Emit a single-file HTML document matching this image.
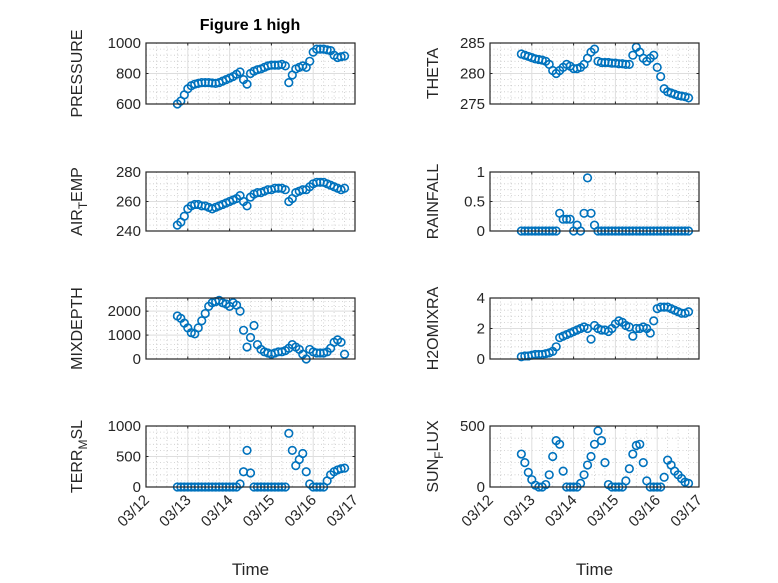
<!DOCTYPE html>
<html><head><meta charset="utf-8">
<style>
html,body{margin:0;padding:0;background:#fff;}
svg{display:block;font-family:"Liberation Sans","DejaVu Sans",sans-serif;}
</style></head>
<body>
<svg id="fig" width="778" height="583" viewBox="0 0 778 583" xmlns="http://www.w3.org/2000/svg">
<rect x="0" y="0" width="778" height="583" fill="#fff"/>
<text x="250" y="30" text-anchor="middle" font-weight="bold" font-size="16" fill="#000">Figure 1 high</text>
</svg>
<script>
// time axis (days after 03/12 00:00), sample step 2h
const startDay = 0.75;
const stepDay = 1/12;
const dayTickLabels = ["03/12","03/13","03/14","03/15","03/16","03/17"];

const pressure = [600,620,660,700,720,730,735,740,740,740,738,735,740,750,760,770,780,795,810,760,730,800,815,825,830,840,850,855,855,855,860,850,740,790,830,840,850,840,880,940,960,960,960,955,950,920,905,910,915];
const airTemp = [244,246,250,255,257,258,258,257,257,256,255,256,257,258,259,260,261,262,264,260,257,263,265,266,266,267,268,268,269,269,269,268,260,262,266,267,268,268,270,272,273,273,273,272,271,270,269,268,269];
const mixDepth = [1800,1700,1500,1300,1100,1050,1300,1600,1900,2200,2350,2400,2450,2350,2300,2200,2350,2250,2000,1200,500,900,1400,600,400,300,250,200,250,300,300,350,450,600,500,400,200,0,400,300,250,250,250,300,450,700,800,700,200];
const terrMsl = [0,0,0,0,0,0,0,0,0,0,0,0,0,0,0,0,0,0,50,250,600,230,0,0,0,0,0,0,0,0,0,0,880,600,350,450,550,250,50,0,0,0,0,100,200,250,280,300,310];
const theta = [283.2,283,282.8,282.6,282.4,282.3,282.2,282,281.5,280.5,280,280.5,281,281.5,281.2,280.8,280.8,281,281.5,282.5,283.5,284,282,281.8,281.8,281.8,281.7,281.7,281.6,281.6,281.5,281.5,283,284.3,283.5,282.5,282,282.5,283,281,279.5,277.5,277,276.8,276.6,276.4,276.3,276.2,276];
const rainfall = [0,0,0,0,0,0,0,0,0,0,0,0.3,0.2,0.2,0.2,0,0.1,0,0.3,0.9,0.3,0.1,0,0,0,0,0,0,0,0,0,0,0,0,0,0,0,0,0,0,0,0,0,0,0,0,0,0,0];
const h2oMix = [0.15,0.2,0.2,0.25,0.3,0.3,0.3,0.35,0.4,0.5,0.8,1.4,1.5,1.6,1.7,1.8,1.9,2.0,2.1,2.0,1.3,2.2,2.0,1.9,1.9,1.8,2.0,2.3,2.5,2.4,2.2,2.1,1.5,2.0,2.0,2.1,2.0,1.7,2.5,3.3,3.4,3.4,3.4,3.3,3.2,3.1,3.0,3.0,3.1];
const sunFlux = [270,200,120,60,15,0,0,20,100,250,380,350,130,0,0,0,0,30,100,180,250,350,460,380,200,20,0,0,0,0,50,150,270,340,350,200,50,0,0,0,0,80,220,180,130,100,70,40,30];

const pressureTicks = [600,800,1000];
const airTempTicks = [240,260,280];
const mixDepthTicks = [0,1000,2000];
const terrTicks = [0,500,1000];
const thetaTicks = [275,280,285];
const rainTicks = [0,0.5,1];
const h2oTicks = [0,2,4];
const sunTicks = [0,500];

const NS = "http://www.w3.org/2000/svg";
const svg = document.getElementById('fig');
function mk(tag, attrs, parent){
  const e = document.createElementNS(NS, tag);
  for (const k in attrs) e.setAttribute(k, attrs[k]);
  (parent||svg).appendChild(e);
  return e;
}

const panels = [
  {name:"pressure", data:pressure, ticks:pressureTicks, ymin:600, ymax:1000, x0:146, y0:43, y1:104, label:["PRESSURE"], labx:82, bottom:false},
  {name:"air-temp", data:airTemp, ticks:airTempTicks, ymin:240, ymax:280, x0:146, y0:172, y1:231, label:["AIR","T","EMP"], labx:82, bottom:false},
  {name:"mixdepth", data:mixDepth, ticks:mixDepthTicks, ymin:0, ymax:2550, x0:146, y0:298, y1:359, label:["MIXDEPTH"], labx:82, bottom:false},
  {name:"terr-msl", data:terrMsl, ticks:terrTicks, ymin:0, ymax:1000, x0:146, y0:426, y1:487, label:["TERR","M","SL"], labx:82, bottom:true},
  {name:"theta", data:theta, ticks:thetaTicks, ymin:275, ymax:285, x0:490, y0:43, y1:104, label:["THETA"], labx:438, bottom:false},
  {name:"rainfall", data:rainfall, ticks:rainTicks, ymin:0, ymax:1, x0:490, y0:172, y1:231, label:["RAINFALL"], labx:438, bottom:false},
  {name:"h2omixra", data:h2oMix, ticks:h2oTicks, ymin:0, ymax:4, x0:490, y0:298, y1:359, label:["H2OMIXRA"], labx:438, bottom:false},
  {name:"sun-flux", data:sunFlux, ticks:sunTicks, ymin:0, ymax:500, x0:490, y0:426, y1:487, label:["SUN","F","LUX"], labx:438, bottom:true},
];
const W = 209, days = 5;

panels.forEach(p=>{
  const g = mk('g',{});
  
  
  const xs = d => p.x0 + d/days*W;
  const ys = v => p.y1 - (v-p.ymin)/(p.ymax-p.ymin)*(p.y1-p.y0);
  for (let d=0; d<=days; d+=0.25){
    if (Math.abs(d-Math.round(d))<1e-6) continue;
    mk('line',{x1:xs(d),x2:xs(d),y1:p.y0,y2:p.y1,stroke:"#c8c8c8","stroke-width":0.8,"stroke-dasharray":"1,2.5"},g);
  }
  const tstep = p.ticks[1]-p.ticks[0];
  for (let v=p.ymin; v<=p.ymax+1e-9; v+=tstep/5){
    mk('line',{x1:p.x0,x2:p.x0+W,y1:ys(v),y2:ys(v),stroke:"#c8c8c8","stroke-width":0.8,"stroke-dasharray":"1,2.5"},g);
  }
  for (let d=1; d<days; d++) mk('line',{x1:xs(d),x2:xs(d),y1:p.y0,y2:p.y1,stroke:"#dedede","stroke-width":1},g);
  p.ticks.forEach(v=>{
    mk('line',{x1:p.x0,x2:p.x0+W,y1:ys(v),y2:ys(v),stroke:"#dedede","stroke-width":1},g);
    const t = mk('text',{x:p.x0-5,y:ys(v)+5,"text-anchor":"end","font-size":15,fill:"#262626"},g);
    t.textContent = String(v);
    
    
  });
  for (let d=0; d<=days; d++){
    mk('line',{x1:xs(d),x2:xs(d),y1:p.y1,y2:p.y1-2.5,stroke:"#262626"},g);
    mk('line',{x1:xs(d),x2:xs(d),y1:p.y0,y2:p.y0+2.5,stroke:"#262626"},g);
  }
  p.ticks.forEach(v=>{
    mk('line',{x1:p.x0,x2:p.x0+2.5,y1:ys(v),y2:ys(v),stroke:"#262626"},g);
    mk('line',{x1:p.x0+W,x2:p.x0+W-2.5,y1:ys(v),y2:ys(v),stroke:"#262626"},g);
  });
  const sg = mk('g',{},g);
  
  
  p.data.forEach((v,i)=>{
    const c = mk('circle',{cx:xs(startDay+i*stepDay),cy:ys(v),r:3.8,fill:"none",stroke:"#0072BD","stroke-width":1.6},sg);
    
    
  });
  const b = mk('rect',{x:p.x0,y:p.y0,width:W,height:p.y1-p.y0,fill:"none",stroke:"#262626","stroke-width":1.2},g);
  
  
  const cy = (p.y0+p.y1)/2;
  const lab = mk('text',{x:0,y:0,"text-anchor":"middle","font-size":16,fill:"#262626",transform:`translate(${p.labx},${cy}) rotate(-90)`},g);
  
  
  if (p.label.length===1){ lab.textContent = p.label[0]; }
  else {
    const a = mk('tspan',{},lab); a.textContent = p.label[0];
    const s = mk('tspan',{dy:5,"font-size":12},lab); s.textContent = p.label[1];
    const r = mk('tspan',{dy:-5},lab); r.textContent = p.label[2];
  }
  if (p.bottom){
    dayTickLabels.forEach((s,d)=>{
      const x = xs(d), y = p.y1+8;
      const t = mk('text',{x:0,y:0,"text-anchor":"end","font-size":15,fill:"#262626",transform:`translate(${x+4},${y+6}) rotate(-45)`},g);
      t.textContent = s;
      
      
    });
    const xt = mk('text',{x:p.x0+W/2,y:575,"text-anchor":"middle","font-size":17,fill:"#262626"},g);
    xt.textContent = "Time";
    
    
  }
});
</script>
</body></html>
